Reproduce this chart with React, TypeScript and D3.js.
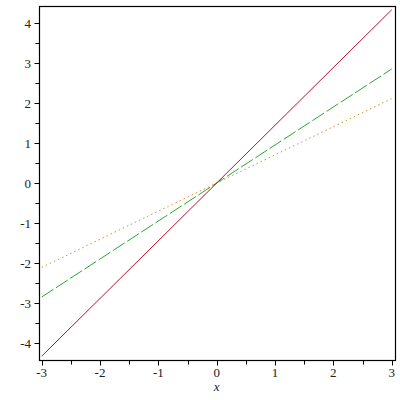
import React from 'react';
import * as d3 from 'd3';

// endpoints of each line
const xs = [-3, 3];
const redY = [-4.33, 4.33];
const greenY = [-2.85, 2.85];
const orangeY = [-2.11, 2.11];

const xTicks = [-3, -2, -1, 0, 1, 2, 3];
const yTicks = [-4, -3, -2, -1, 0, 1, 2, 3, 4];

const FONT = "'Liberation Serif', 'Times New Roman', serif";

export default function App() {
  const x = d3.scaleLinear().domain([-3, 3]).range([41.7, 391.7]);
  const y = d3.scaleLinear().domain([-4.425, 4.425]).range([360, 6]);

  const line = d3.line<[number, number]>()
    .x(d => x(d[0]))
    .y(d => y(d[1]));

  const pts = (ys: number[]) => xs.map((v, i) => [v, ys[i]] as [number, number]);

  const xMinor = d3.range(-2.5, 3, 1);
  const yMinor = d3.range(-3.5, 4, 1);

  const left = 39.5;
  const right = 395.5;
  const top = 6.5;
  const bottom = 360.5;

  return (
    <svg width={400} height={400} style={{ position: 'absolute', left: 0, top: 0, background: '#fff' }}>
      {/* frame */}
      <rect x={left} y={top} width={right - left} height={bottom - top} fill="none" stroke="#000" strokeWidth={1.2} />

      {/* y ticks */}
      {yTicks.map(t => (
        <g key={'y' + t}>
          <line x1={left - 5} x2={left} y1={Math.round(y(t)) + 0.5} y2={Math.round(y(t)) + 0.5} stroke="#000" />
          <text x={31} y={y(t) + 4.5} textAnchor="end" style={{ fontFamily: FONT }} fontSize={13} fill="#222">
            {t < 0 ? '-' + Math.abs(t) : t}
          </text>
        </g>
      ))}
      {yMinor.map(t => (
        <line key={'ym' + t} x1={left - 4} x2={left} y1={Math.round(y(t)) + 0.5} y2={Math.round(y(t)) + 0.5} stroke="#000" />
      ))}

      {/* x ticks */}
      {xTicks.map(t => (
        <g key={'x' + t}>
          <line x1={Math.round(x(t)) + 0.5} x2={Math.round(x(t)) + 0.5} y1={bottom} y2={bottom + 5} stroke="#000" />
          <text x={x(t)} y={377} textAnchor="middle" style={{ fontFamily: FONT }} fontSize={13} fill="#222">
            {t < 0 ? '-' + Math.abs(t) : t}
          </text>
        </g>
      ))}
      {xMinor.map(t => (
        <line key={'xm' + t} x1={Math.round(x(t)) + 0.5} x2={Math.round(x(t)) + 0.5} y1={bottom} y2={bottom + 4} stroke="#000" />
      ))}
      <text x={x(0)} y={391} textAnchor="middle" style={{ fontFamily: FONT, fontStyle: 'italic' }} fontSize={13} fill="#222">x</text>

      {/* curves */}
      <path d={line(pts(orangeY)) || ''} fill="none" stroke="#cc9433" strokeWidth={1} strokeDasharray="1.5,3" />
      <path d={line(pts(greenY)) || ''} fill="none" stroke="#2aa82a" strokeWidth={1} strokeDasharray="14,3" />
      <path d={line(pts(redY)) || ''} fill="none" stroke="#b5122e" strokeWidth={1} />
    </svg>
  );
}
